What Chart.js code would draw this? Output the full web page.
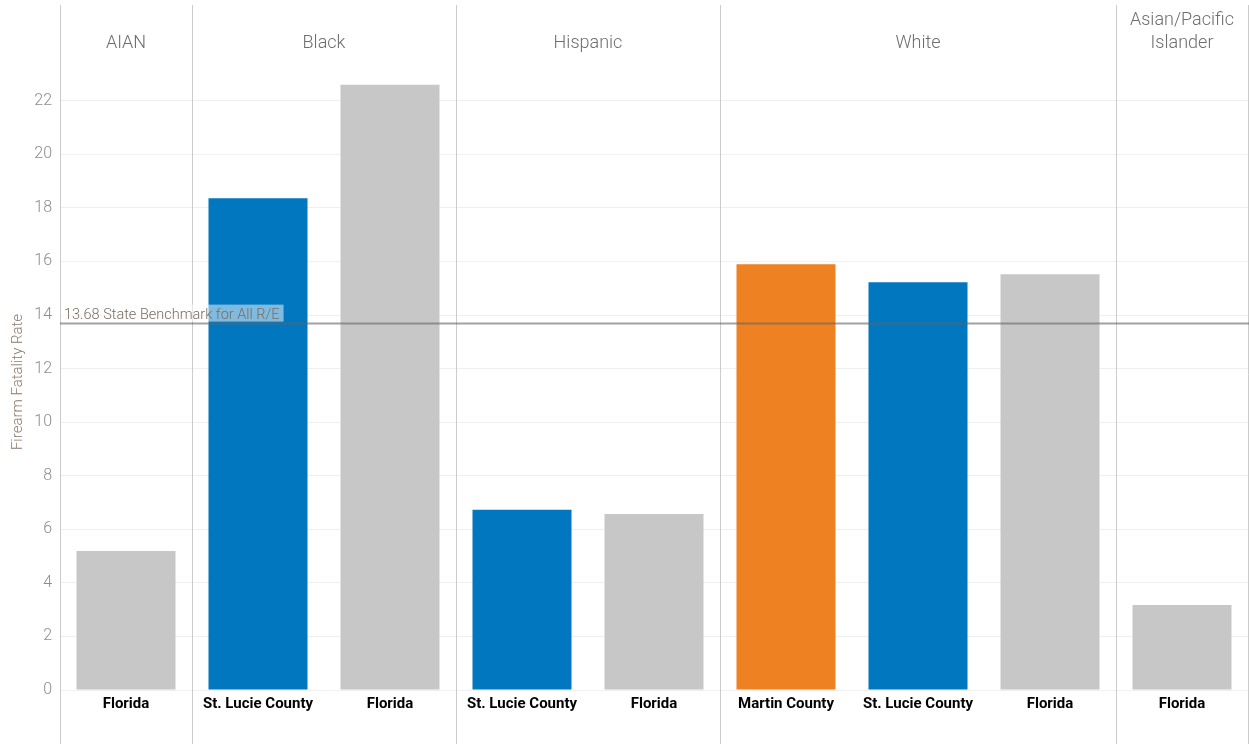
<!DOCTYPE html>
<html>
<head>
<meta charset="utf-8">
<script src="https://cdn.jsdelivr.net/npm/chart.js@4.4.0/dist/chart.umd.min.js"></script>
<style>
  html, body { margin: 0; padding: 0; background: #fff; }
  #wrap { width: 1249px; height: 744px; }
</style>
</head>
<body>
<div id="wrap"><canvas id="chart" width="1249" height="744"></canvas></div>
<script>
  // Data
  const barLabels = ["Florida", "St. Lucie County", "Florida", "St. Lucie County", "Florida", "Martin County", "St. Lucie County", "Florida", "Florida"];
  const barGroups = ["AIAN", "Black", "Black", "Hispanic", "Hispanic", "White", "White", "White", "Asian/Pacific Islander"];
  const rates = [5.19, 18.36, 22.6, 6.73, 6.57, 15.9, 15.22, 15.52, 3.17];
  const benchmark = 13.68;
  const benchmarkText = "13.68 State Benchmark for All R/E";
  const yTitle = "Firearm Fatality Rate";

  // colours per place
  const placeColors = { "Florida": "#c6c7c6", "St. Lucie County": "#0077be", "Martin County": "#ee8223" };

  const lightFont = "Roboto, 'Open Sans', sans-serif";

  // panels, headers and benchmark line
  const panelPlugin = {
    id: "panels",
    beforeDatasetsDraw(chart) {
      const ctx = chart.ctx;
      const xs = chart.scales.x;
      const area = chart.chartArea;
      const lines = [area.left];
      for (let i = 1; i < barGroups.length; i++) {
        if (barGroups[i] !== barGroups[i - 1]) {
          lines.push((xs.getPixelForValue(i - 1) + xs.getPixelForValue(i)) / 2);
        }
      }
      lines.push(area.right);
      ctx.save();
      ctx.strokeStyle = "#cbcbcb";
      ctx.lineWidth = 1;
      lines.forEach(x => {
        const px = Math.round(x) + 0.5;
        ctx.beginPath();
        ctx.moveTo(px, 5);
        ctx.lineTo(px, chart.height);
        ctx.stroke();
      });
      ctx.restore();
    },
    afterDatasetsDraw(chart) {
      const ctx = chart.ctx;
      const ys = chart.scales.y;
      const area = chart.chartArea;
      const y = ys.getPixelForValue(benchmark);
      ctx.save();
      ctx.strokeStyle = "rgba(100,100,100,0.6)";
      ctx.lineWidth = 2;
      ctx.beginPath();
      ctx.moveTo(area.left, y);
      ctx.lineTo(chart.width, y);
      ctx.stroke();

      ctx.font = "300 14.5px " + lightFont;
      const w = ctx.measureText(benchmarkText).width;
      ctx.fillStyle = "rgba(255,255,255,0.5)";
      ctx.fillRect(area.left + 2, y - 19, w + 6, 17);
      ctx.fillStyle = "#7a6d62";
      ctx.textBaseline = "alphabetic";
      ctx.textAlign = "left";
      ctx.fillText(benchmarkText, area.left + 4, y - 5);
      ctx.restore();
    },
    afterDraw(chart) {
      const ctx = chart.ctx;
      const xs = chart.scales.x;
      ctx.save();
      ctx.font = "300 18px " + lightFont;
      ctx.fillStyle = "#6e6e6e";
      ctx.textAlign = "center";
      ctx.textBaseline = "middle";
      let start = 0;
      for (let i = 1; i <= barGroups.length; i++) {
        if (i === barGroups.length || barGroups[i] !== barGroups[start]) {
          const left = xs.getPixelForValue(start) - 66;
          const right = xs.getPixelForValue(i - 1) + 66;
          const cx = (left + right) / 2;
          const name = barGroups[start];
          if (ctx.measureText(name).width > right - left - 16) {
            const parts = name.split(" ");
            ctx.fillText(parts[0], cx, 20);
            ctx.fillText(parts.slice(1).join(" "), cx, 43);
          } else {
            ctx.fillText(name, cx, 43);
          }
          start = i;
        }
      }
      ctx.restore();
    }
  };

  const ctx = document.getElementById("chart").getContext("2d");
  new Chart(ctx, {
    type: "bar",
    data: {
      labels: barLabels,
      datasets: [{
        data: rates,
        backgroundColor: barLabels.map(l => placeColors[l]),
        barPercentage: 0.75,
        categoryPercentage: 1.0
      }]
    },
    options: {
      responsive: false,
      animation: false,
      layout: { padding: { top: 74, right: 1, left: 0, bottom: 0 } },
      plugins: {
        legend: { display: false },
        tooltip: { enabled: false }
      },
      scales: {
        x: {
          grid: { display: false },
          border: { display: false },
          ticks: {
            color: "#000",
            font: { family: "Roboto, sans-serif", size: 15, weight: "bold" },
            padding: -3,
            maxRotation: 0,
            autoSkip: false
          },
          afterFit(scale) { scale.height = 54; }
        },
        y: {
          min: 0,
          max: 23,
          border: { display: false },
          grid: { color: "#efefef", drawTicks: false },
          ticks: {
            stepSize: 2,
            includeBounds: false,
            color: "#8c8c8c",
            padding: 8,
            font: { family: lightFont, size: 16, weight: "300" }
          },
          title: {
            display: true,
            text: yTitle,
            color: "#8a7a6a",
            padding: { top: 9, bottom: 0 },
            font: { family: lightFont, size: 15, weight: "300" }
          },
          afterFit(scale) { scale.width = 60; }
        }
      }
    },
    plugins: [panelPlugin]
  });
</script>
</body>
</html>
